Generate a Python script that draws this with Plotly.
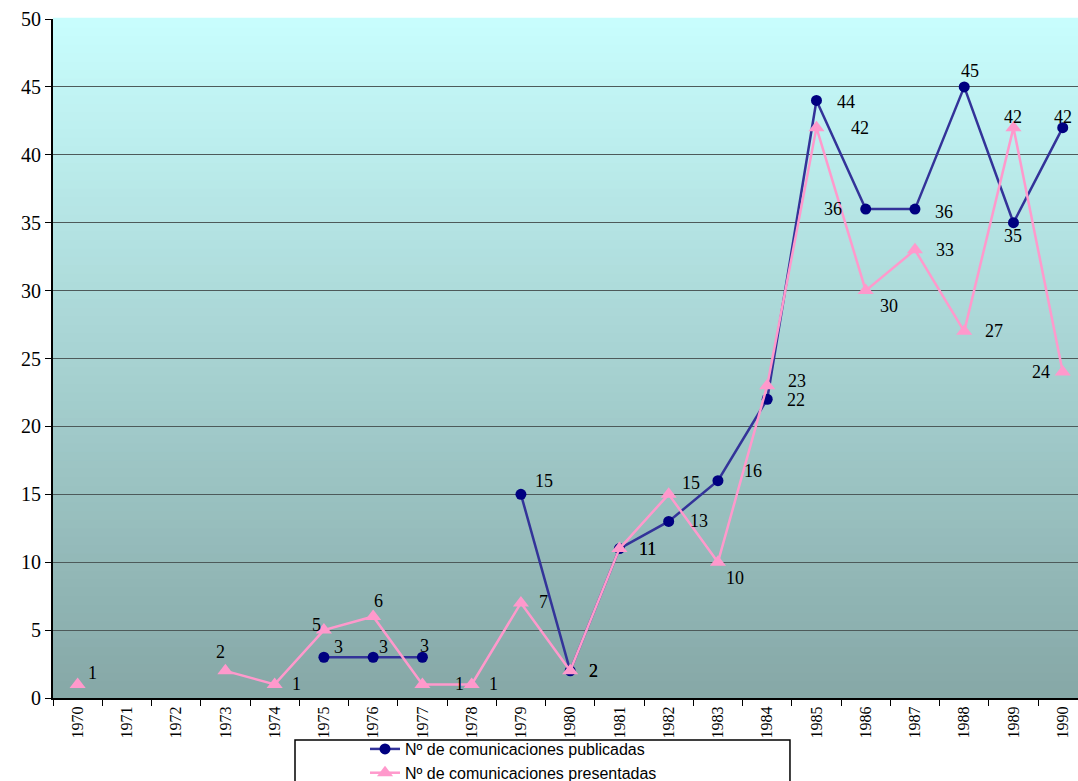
import plotly.graph_objects as go

years = [str(y) for y in range(1970, 1991)]

publicadas = [None, None, None, None, None, 3, 3, 3, None, 15, 2,
              11, 13, 16, 22, 44, 36, 36, 45, 35, 42]
presentadas = [1, None, None, 2, 1, 5, 6, 1, 1, 7, 2,
               11, 15, 10, 23, 42, 30, 33, 27, 42, 24]

name_pub = "Nº de comunicaciones publicadas"
name_pre = "Nº de comunicaciones presentadas"

# label offsets (px) per year, to mimic the original label placement
off_pub = {"1975": (15, 10), "1976": (10, 10), "1977": (2, 11), "1979": (23, 13),
           "1980": (23, 0), "1981": (28, 0), "1982": (30, 0), "1983": (35, 10),
           "1984": (29, -1), "1985": (30, -2), "1986": (-33, 0), "1987": (29, -3),
           "1988": (6, 16), "1989": (0, -13), "1990": (0, 11)}
off_pre = {"1970": (15, 11), "1973": (-5, 19), "1974": (22, 0), "1975": (-7, 5),
           "1976": (5, 16), "1977": (37, 0), "1978": (22, 0), "1979": (23, 1),
           "1980": (23, 0), "1981": (28, 0), "1982": (22, 11), "1983": (17, -16),
           "1984": (30, 5), "1985": (44, 0), "1986": (23, -15), "1987": (30, 0),
           "1988": (30, 0), "1989": (0, 11), "1990": (-22, 0)}

fig = go.Figure()

fig.add_trace(go.Scatter(
    x=years, y=publicadas, name=name_pub, mode="lines+markers",
    line=dict(color="#333399", width=2.5),
    marker=dict(color="#000080", size=11, symbol="circle"),
))
fig.add_trace(go.Scatter(
    x=years, y=presentadas, name=name_pre, mode="lines+markers",
    line=dict(color="#FF99CC", width=2.5),
    marker=dict(color="#FF99CC", size=14, symbol="triangle-up"),
))

for vals, offs in ((publicadas, off_pub), (presentadas, off_pre)):
    for i, (yr, v) in enumerate(zip(years, vals)):
        if v is None:
            continue
        dx, dy = offs.get(yr, (20, 0))
        fig.add_annotation(
            x=i, y=v, xref="x", yref="y", text=str(v), showarrow=False,
            xshift=dx, yshift=dy,
            font=dict(family="Liberation Serif", size=18, color="black"),
        )

# vertical gradient background drawn as thin bands
n = 80
top = (200, 253, 253)
bot = (134, 168, 167)
for i in range(n):
    f = i / (n - 1)
    c = tuple(round(bot[k] + (top[k] - bot[k]) * f) for k in range(3))
    fig.add_shape(
        type="rect", xref="paper", yref="paper",
        x0=0, x1=1, y0=i / n, y1=(i + 1) / n + 0.002,
        fillcolor="rgb(%d,%d,%d)" % c, line=dict(width=0), layer="below",
    )

# legend frame
fig.add_shape(
    type="rect", xref="paper", yref="paper",
    x0=0.2361, x1=0.719, y0=-0.0619, y1=-0.3,
    fillcolor="white", line=dict(color="black", width=1.5), layer="below",
)

fig.update_layout(
    width=1078,
    height=781,
    paper_bgcolor="white",
    plot_bgcolor="rgba(0,0,0,0)",
    margin=dict(l=53, r=0, t=19, b=83, autoexpand=False),
    showlegend=True,
    legend=dict(
        x=0.3044, y=-0.0501, xanchor="left", yanchor="top",
        orientation="v",
        bgcolor="rgba(0,0,0,0)",
        font=dict(family="Liberation Sans", size=16, color="black"),
        tracegroupgap=0,
        itemwidth=30,
    ),
    xaxis=dict(
        type="category",
        range=[-0.5, 20.31],
        showgrid=False,
        showline=True, linecolor="black", linewidth=2,
        ticks="outside", tickson="boundaries", ticklen=6, tickcolor="black",
        tickangle=-90,
        tickfont=dict(family="Liberation Serif", size=16, color="black"),
    ),
    yaxis=dict(
        range=[0, 50],
        dtick=5,
        showgrid=True, gridcolor="#4d5a5a", gridwidth=1,
        showline=True, linecolor="black", linewidth=2,
        ticks="outside", ticklen=6, tickcolor="black",
        zeroline=False,
        tickfont=dict(family="Liberation Serif", size=20, color="black"),
    ),
)

fig.write_html(
    "out.html",
    config={"displayModeBar": False},
    post_script="document.body.style.margin='0';",
)
